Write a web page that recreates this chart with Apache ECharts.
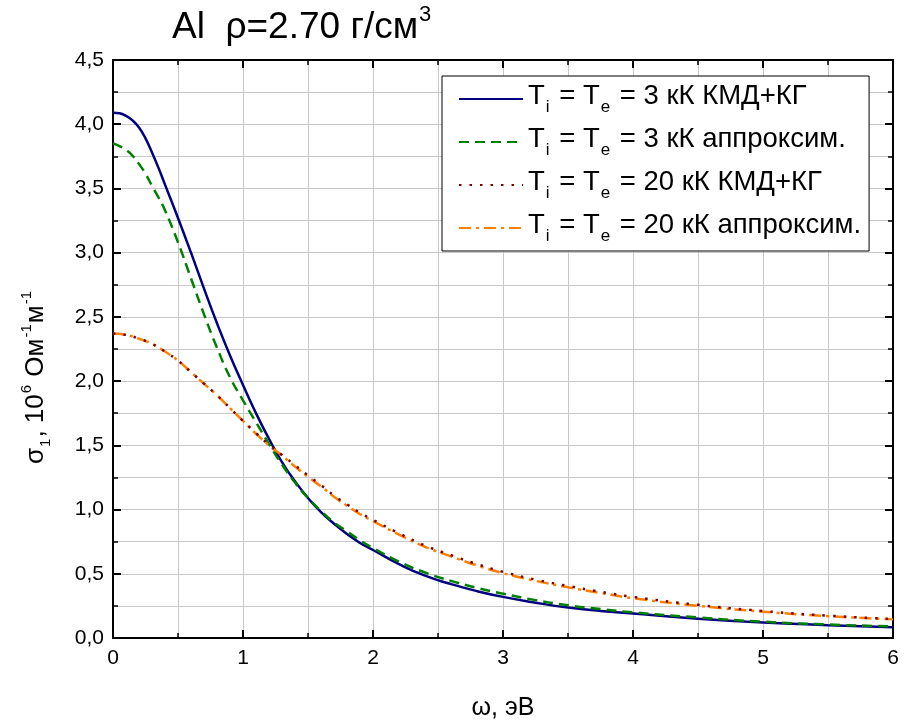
<!DOCTYPE html>
<html>
<head>
<meta charset="utf-8">
<script src="https://cdn.jsdelivr.net/npm/echarts@6/dist/echarts.min.js"></script>
<style>html,body{margin:0;padding:0;background:#fff}#c{width:904px;height:727px}</style>
</head>
<body>
<div id="c"></div>
<script>
// ---- data ----
const seriesNames = [
  'T_i = T_e = 3 кК КМД+КГ',
  'T_i = T_e = 3 кК аппроксим.',
  'T_i = T_e = 20 кК КМД+КГ',
  'T_i = T_e = 20 кК аппроксим.'
];
const titleText = 'Al  ρ=2.70 г/см';
const xAxisName = 'ω, эВ';
const blueX = [0,0.05,0.1,0.15,0.2,0.25,0.3,0.35,0.4,0.5,0.6,0.7,0.8,0.9,1.0,1.1,1.2,1.3,1.4,1.5,1.6,1.7,1.8,1.9,2.0,2.2,2.4,2.6,2.8,3.0,3.25,3.5,3.75,4.0,4.5,5.0,5.5,6.0];
const blueY = [4.09,4.085,4.065,4.03,3.975,3.89,3.78,3.66,3.53,3.27,3.00,2.72,2.45,2.20,1.97,1.75,1.55,1.37,1.22,1.09,0.98,0.89,0.81,0.74,0.685,0.575,0.485,0.42,0.365,0.32,0.275,0.237,0.21,0.19,0.15,0.12,0.10,0.083];
const greenX = [0,0.05,0.1,0.15,0.2,0.25,0.3,0.35,0.4,0.5,0.6,0.7,0.8,0.9,1.0,1.1,1.2,1.3,1.4,1.5,1.6,1.7,1.8,1.9,2.0,2.2,2.4,2.6,2.8,3.0,3.25,3.5,3.75,4.0,4.5,5.0,5.5,6.0];
const greenY = [3.85,3.83,3.80,3.755,3.69,3.615,3.52,3.43,3.33,3.08,2.80,2.52,2.26,2.03,1.85,1.68,1.51,1.35,1.21,1.09,0.99,0.90,0.83,0.76,0.70,0.595,0.51,0.445,0.39,0.345,0.295,0.255,0.225,0.20,0.16,0.127,0.105,0.09];
const redX = [0,0.1,0.2,0.3,0.4,0.5,0.6,0.7,0.8,0.9,1.0,1.1,1.2,1.3,1.4,1.5,1.6,1.7,1.8,1.9,2.0,2.2,2.4,2.6,2.8,3.0,3.25,3.5,3.75,4.0,4.5,5.0,5.5,6.0];
const redY = [2.37,2.36,2.33,2.29,2.23,2.16,2.07,1.98,1.89,1.79,1.69,1.595,1.505,1.425,1.345,1.265,1.19,1.11,1.04,0.975,0.92,0.815,0.72,0.645,0.575,0.515,0.455,0.405,0.36,0.32,0.258,0.21,0.174,0.148];
const orangeX = [0,0.1,0.2,0.3,0.4,0.5,0.6,0.7,0.8,0.9,1.0,1.1,1.2,1.3,1.4,1.5,1.6,1.7,1.8,1.9,2.0,2.2,2.4,2.6,2.8,3.0,3.25,3.5,3.75,4.0,4.5,5.0,5.5,6.0];
const orangeY = [2.37,2.36,2.33,2.29,2.23,2.16,2.07,1.98,1.89,1.79,1.69,1.59,1.50,1.42,1.335,1.255,1.18,1.10,1.03,0.965,0.91,0.805,0.71,0.635,0.565,0.505,0.445,0.395,0.35,0.31,0.25,0.205,0.17,0.145];

const zip = (xs, ys) => xs.map((x, i) => [x, ys[i]]);
const comma = v => (Math.round(v * 10) / 10).toFixed(1).replace('.', ',');

const FONT = 'Liberation Sans, Arial, sans-serif';
const gridColor = '#c8c8c8';

function legendLabel(name) {
  const m = name.match(/^T_i = T_e = (.*)$/);
  return '{n|T}{s|i}{n| = T}{s|e}{n| = ' + m[1] + '}';
}

const chart = echarts.init(document.getElementById('c'), null, {renderer: 'canvas'});

const axisCommon = {
  axisLine: {show: true, onZero: false, lineStyle: {color: '#000', width: 2}},
  axisTick: {show: true, inside: true, length: 8, lineStyle: {color: '#000', width: 2}},
  minorTick: {show: true, splitNumber: 2, length: 5, lineStyle: {color: '#000', width: 1.5}},
};

chart.setOption({
  animation: false,
  backgroundColor: '#fff',
  graphic: [
    {
      type: 'text', left: 172, top: 0, z: 10,
      style: {
        text: '{a|' + titleText + '}{sup|3}',
        rich: {
          a: {fontFamily: FONT, fontSize: 37, fontWeight: 'normal', fill: '#000', lineHeight: 46, verticalAlign: 'bottom'},
          sup: {fontFamily: FONT, fontSize: 22, fontWeight: 'normal', fill: '#000', lineHeight: 46, verticalAlign: 'top', padding: [4, 0, 0, 1]}
        }
      }
    },
    {
      type: 'text', x: 36, y: 377, rotation: Math.PI / 2, z: 10,
      style: {
        text: '{n|σ}{sub|1}{n|, 10}{sup|6}{n| Ом}{sup|-1}{n|м}{sup|-1}',
        align: 'center', verticalAlign: 'middle',
        rich: {
          n: {fontFamily: FONT, fontSize: 26, fill: '#000', lineHeight: 34, verticalAlign: 'middle'},
          sub: {fontFamily: FONT, fontSize: 15, fill: '#000', lineHeight: 34, verticalAlign: 'bottom', padding: [0, 1, 0, 1]},
          sup: {fontFamily: FONT, fontSize: 15, fill: '#000', lineHeight: 34, verticalAlign: 'top', padding: [0, 1, 0, 1]}
        }
      }
    }
  ],
  legend: {
    orient: 'vertical',
    left: 442, top: 76,
    padding: [6, 8, 6, 16],
    itemGap: 9,
    itemWidth: 64,
    itemHeight: 20,
    borderColor: '#000', borderWidth: 1,
    backgroundColor: '#fff',
    data: seriesNames,
    formatter: legendLabel,
    itemStyle: {opacity: 0},
    textStyle: {
      rich: {
        n: {fontFamily: FONT, fontSize: 27.5, color: '#000', lineHeight: 34, verticalAlign: 'top'},
        s: {fontFamily: FONT, fontSize: 17, color: '#000', lineHeight: 34, verticalAlign: 'bottom', padding: [0, 2, 0, 1]}
      }
    }
  },
  grid: {left: 113, right: 11, top: 60, bottom: 89, containLabel: false},
  xAxis: [
    Object.assign({
      type: 'value', min: 0, max: 6, interval: 1, position: 'bottom',
      name: xAxisName, nameLocation: 'middle', nameGap: 58,
      nameTextStyle: {fontFamily: FONT, fontSize: 25, color: '#000'},
      axisLabel: {fontFamily: FONT, fontSize: 21, color: '#000', margin: 10},
      splitLine: {show: true, lineStyle: {color: gridColor, width: 1}},
      minorSplitLine: {show: true, lineStyle: {color: gridColor, width: 1}}
    }, axisCommon),
    Object.assign({
      type: 'value', min: 0, max: 6, interval: 1, position: 'top',
      axisLabel: {show: false}, splitLine: {show: false}
    }, axisCommon)
  ],
  yAxis: [
    Object.assign({
      type: 'value', min: 0, max: 4.5, interval: 0.5, position: 'left',
      axisLabel: {fontFamily: FONT, fontSize: 21, color: '#000', margin: 9, formatter: comma},
      splitLine: {show: true, lineStyle: {color: gridColor, width: 1}},
      minorSplitLine: {show: true, lineStyle: {color: gridColor, width: 1}}
    }, axisCommon),
    Object.assign({
      type: 'value', min: 0, max: 4.5, interval: 0.5, position: 'right',
      axisLabel: {show: false}, splitLine: {show: false}
    }, axisCommon)
  ],
  series: [
    {name: seriesNames[0], type: 'line', data: zip(blueX, blueY), smooth: 0.5, symbol: 'none', z: 4,
     lineStyle: {color: '#000080', width: 2.5, type: 'solid'}, itemStyle: {color: '#000080'}},
    {name: seriesNames[1], type: 'line', data: zip(greenX, greenY), smooth: 0.5, symbol: 'none', z: 5,
     lineStyle: {color: '#008000', width: 2.5, type: [10, 6]}, itemStyle: {color: '#008000'}},
    {name: seriesNames[2], type: 'line', data: zip(redX, redY), smooth: 0.5, symbol: 'none', z: 6,
     lineStyle: {color: '#800000', width: 2.5, type: [2.5, 8]}, itemStyle: {color: '#800000'}},
    {name: seriesNames[3], type: 'line', data: zip(orangeX, orangeY), smooth: 0.5, symbol: 'none', z: 5,
     lineStyle: {color: '#ff8000', width: 2.5, type: [12, 5, 3, 5]}, itemStyle: {color: '#ff8000'}}
  ]
});
</script>
</body>
</html>
